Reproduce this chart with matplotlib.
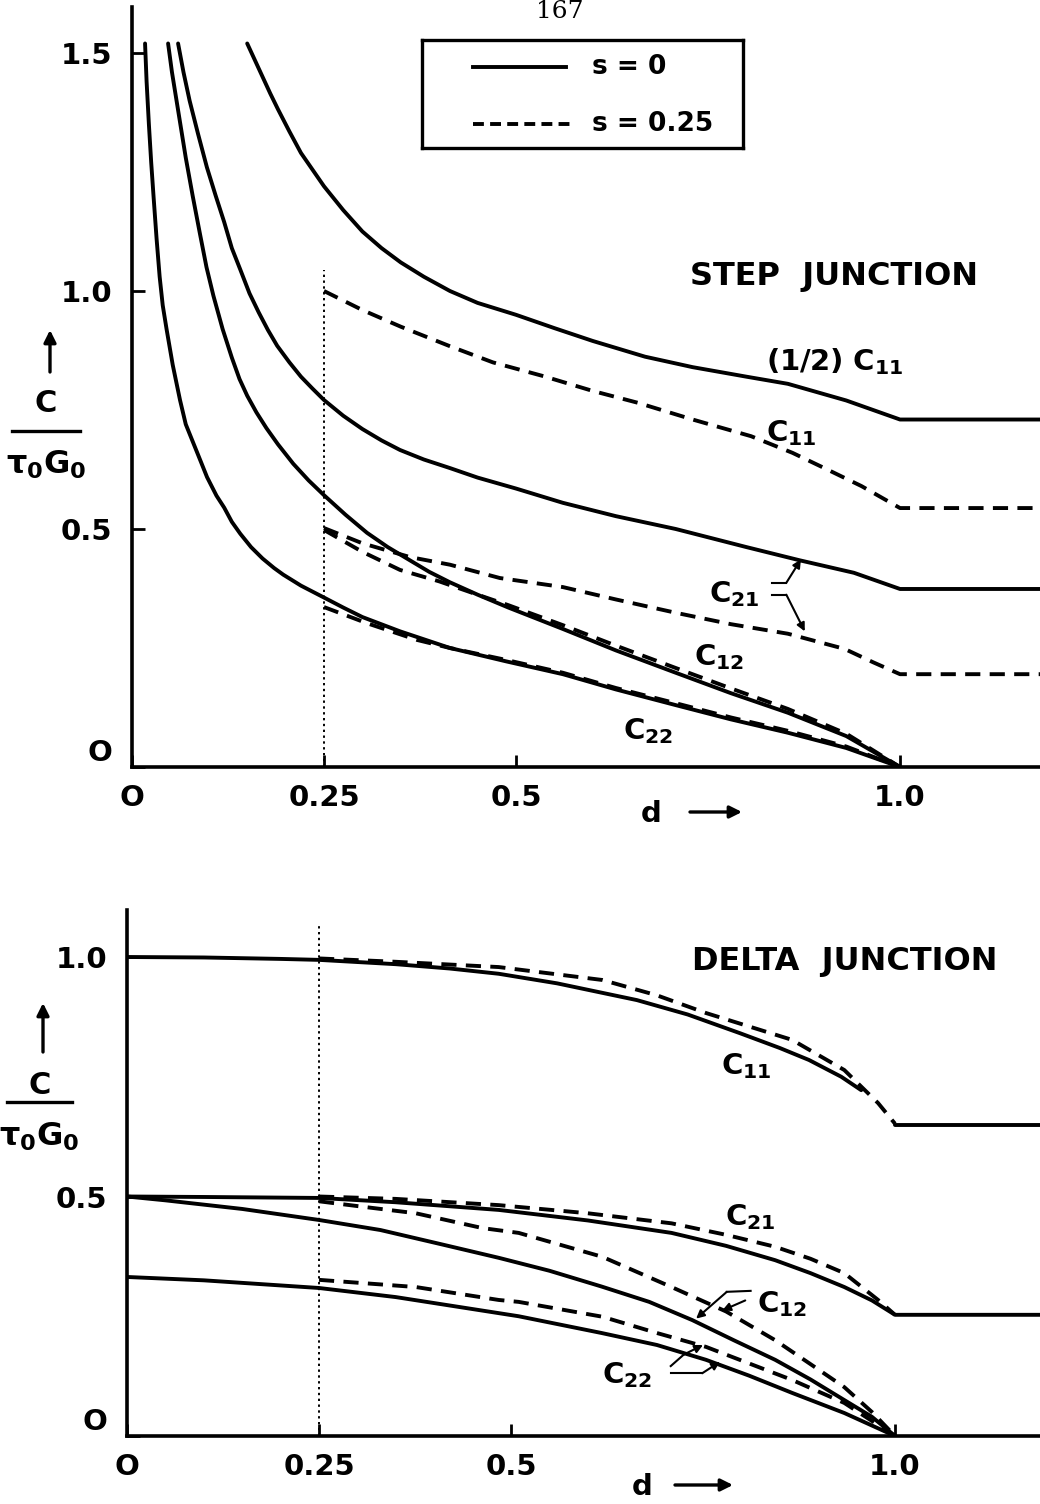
import matplotlib
matplotlib.use("Agg")
import matplotlib.pyplot as plt
from matplotlib.lines import Line2D

plt.rcParams['font.family'] = ['DejaVu Sans']
plt.rcParams['font.weight'] = 'bold'
plt.rcParams['mathtext.fontset'] = 'dejavusans'
plt.rcParams['mathtext.default'] = 'bf'

# ---------------- STEP JUNCTION ----------------
# s = 0 (solid)
step_hc11_d = [0.15, 0.16, 0.17, 0.18, 0.19, 0.205, 0.22, 0.235, 0.25, 0.275, 0.30, 0.325, 0.35, 0.38,
               0.414, 0.45, 0.50, 0.55, 0.60, 0.668, 0.73, 0.80, 0.854, 0.93, 1.0, 1.19]
step_hc11_c = [1.52, 1.485, 1.45, 1.415, 1.382, 1.335, 1.29, 1.255, 1.22, 1.17, 1.125, 1.09, 1.06, 1.03,
               1.0, 0.975, 0.95, 0.922, 0.895, 0.862, 0.84, 0.82, 0.805, 0.77, 0.73, 0.73]

step_c21_d = [0.06, 0.067, 0.075, 0.086, 0.0975, 0.109, 0.12, 0.13, 0.141, 0.153, 0.165, 0.177, 0.189,
              0.205, 0.22, 0.235, 0.25, 0.275, 0.30, 0.325, 0.349, 0.38, 0.414, 0.45, 0.50, 0.561,
              0.63, 0.708, 0.80, 0.87, 0.94, 1.0, 1.19]
step_c21_c = [1.52, 1.46, 1.40, 1.33, 1.26, 1.20, 1.145, 1.09, 1.045, 0.995, 0.955, 0.918, 0.885,
              0.85, 0.82, 0.795, 0.771, 0.738, 0.71, 0.686, 0.666, 0.646, 0.628, 0.608, 0.585, 0.555,
              0.527, 0.50, 0.462, 0.434, 0.408, 0.374, 0.374]

step_c12_d = [0.047, 0.052, 0.058, 0.064, 0.07, 0.079, 0.0885, 0.097, 0.106, 0.118, 0.13, 0.14, 0.15,
              0.162, 0.175, 0.19, 0.21, 0.23, 0.25, 0.278, 0.306, 0.333, 0.36, 0.387, 0.414, 0.45,
              0.49, 0.561, 0.63, 0.708, 0.78, 0.854, 0.93, 1.0]
step_c12_c = [1.52, 1.46, 1.40, 1.34, 1.28, 1.20, 1.12, 1.05, 0.99, 0.92, 0.86, 0.815, 0.78,
              0.745, 0.712, 0.678, 0.637, 0.602, 0.571, 0.53, 0.492, 0.462, 0.436, 0.41, 0.388, 0.362,
              0.335, 0.29, 0.245, 0.198, 0.155, 0.114, 0.065, 0.0]

step_c22_d = [0.017, 0.019, 0.022, 0.025, 0.028, 0.032, 0.036, 0.04, 0.045, 0.053, 0.0625, 0.07, 0.08,
              0.09, 0.0977, 0.11, 0.12, 0.13, 0.141, 0.155, 0.17, 0.185, 0.197, 0.22, 0.25, 0.275,
              0.30, 0.349, 0.414, 0.487, 0.561, 0.63, 0.708, 0.78, 0.854, 0.93, 1.0]
step_c22_c = [1.52, 1.44, 1.35, 1.27, 1.20, 1.11, 1.03, 0.97, 0.92, 0.845, 0.771, 0.72, 0.68,
              0.64, 0.609, 0.57, 0.545, 0.515, 0.49, 0.462, 0.438, 0.418, 0.404, 0.381, 0.356, 0.335,
              0.315, 0.285, 0.25, 0.222, 0.195, 0.163, 0.13, 0.1, 0.072, 0.04, 0.0]

# s = 0.25 (dashed)
step_c11_s_d = [0.25, 0.30, 0.35, 0.414, 0.47, 0.536, 0.60, 0.659, 0.73, 0.806, 0.86, 0.904, 0.95, 1.0, 1.19]
step_c11_s_c = [1.0, 0.96, 0.925, 0.884, 0.85, 0.821, 0.79, 0.765, 0.73, 0.695, 0.66, 0.626, 0.59, 0.544, 0.544]

step_c21_s_d = [0.25, 0.30, 0.362, 0.414, 0.479, 0.561, 0.63, 0.708, 0.78, 0.854, 0.928, 0.965, 1.0, 1.19]
step_c21_s_c = [0.502, 0.47, 0.441, 0.425, 0.397, 0.378, 0.352, 0.324, 0.30, 0.28, 0.248, 0.22, 0.195, 0.195]

step_c12_s_d = [0.25, 0.30, 0.349, 0.40, 0.45, 0.49, 0.561, 0.63, 0.708, 0.78, 0.854, 0.93, 1.0]
step_c12_s_c = [0.498, 0.452, 0.414, 0.39, 0.362, 0.34, 0.298, 0.255, 0.208, 0.165, 0.122, 0.07, 0.0]

step_c22_s_d = [0.25, 0.306, 0.371, 0.414, 0.487, 0.561, 0.63, 0.708, 0.78, 0.854, 0.93, 1.0]
step_c22_s_c = [0.336, 0.302, 0.267, 0.25, 0.225, 0.198, 0.166, 0.134, 0.104, 0.076, 0.043, 0.0]

# ---------------- DELTA JUNCTION ----------------
# s = 0 (solid)
delta_c11_d = [0.0, 0.1, 0.2, 0.25, 0.35, 0.42, 0.484, 0.56, 0.664, 0.73, 0.798, 0.85, 0.888, 0.93, 0.956]
delta_c11_c = [1.0, 0.999, 0.996, 0.994, 0.985, 0.976, 0.965, 0.945, 0.91, 0.88, 0.841, 0.81, 0.785, 0.75, 0.722]
delta_c11_flat_d = [1.0, 1.19]
delta_c11_flat_c = [0.65, 0.65]

delta_c21_d = [0.0, 0.1, 0.25, 0.35, 0.484, 0.6, 0.709, 0.78, 0.844, 0.89, 0.934, 0.97, 1.0, 1.19]
delta_c21_c = [0.5, 0.499, 0.497, 0.488, 0.472, 0.45, 0.424, 0.397, 0.367, 0.34, 0.311, 0.283, 0.253, 0.253]

delta_c12_d = [0.0, 0.05, 0.1, 0.15, 0.25, 0.33, 0.41, 0.484, 0.55, 0.618, 0.68, 0.736, 0.79, 0.844,
               0.89, 0.934, 0.97, 1.0]
delta_c12_c = [0.5, 0.492, 0.483, 0.474, 0.451, 0.43, 0.40, 0.372, 0.345, 0.312, 0.28, 0.242, 0.2, 0.159,
               0.118, 0.075, 0.04, 0.0]

delta_c22_d = [0.0, 0.1, 0.25, 0.35, 0.45, 0.51, 0.618, 0.69, 0.754, 0.81, 0.866, 0.934, 1.0]
delta_c22_c = [0.332, 0.325, 0.309, 0.29, 0.265, 0.25, 0.215, 0.19, 0.159, 0.126, 0.09, 0.048, 0.0]

# s = 0.25 (dashed)
delta_c11_s_d = [0.25, 0.35, 0.484, 0.619, 0.69, 0.754, 0.81, 0.866, 0.934, 0.978, 1.0]
delta_c11_s_c = [0.997, 0.99, 0.979, 0.952, 0.92, 0.883, 0.855, 0.827, 0.764, 0.695, 0.652]

delta_c21_s_d = [0.25, 0.35, 0.484, 0.60, 0.709, 0.78, 0.844, 0.89, 0.934, 0.978, 1.0]
delta_c21_s_c = [0.5, 0.495, 0.482, 0.465, 0.444, 0.42, 0.395, 0.37, 0.34, 0.284, 0.253]

delta_c12_s_d = [0.25, 0.30, 0.376, 0.463, 0.51, 0.619, 0.709, 0.78, 0.844, 0.89, 0.934, 0.97, 1.0]
delta_c12_s_c = [0.49, 0.48, 0.465, 0.434, 0.424, 0.374, 0.311, 0.26, 0.2, 0.15, 0.102, 0.05, 0.0]

delta_c22_s_d = [0.25, 0.376, 0.484, 0.51, 0.619, 0.69, 0.754, 0.866, 0.934, 1.0]
delta_c22_s_c = [0.326, 0.311, 0.284, 0.28, 0.249, 0.215, 0.186, 0.117, 0.069, 0.0]

# axis ticks
step_yticks = [0, 0.5, 1.0, 1.5]
step_ylabels = ['', '0.5', '1.0', '1.5']
delta_yticks = [0, 0.5, 1.0]
delta_ylabels = ['', '0.5', '1.0']
xticks = [0, 0.25, 0.5, 1.0]
xlabels = ['O', '0.25', '0.5', '1.0']

W, H = 1040, 1504
LW = 2.8
DASH = (0, (3.9, 2.4))
DOT = (0, (1.2, 1.8))
FS = 21

fig = plt.figure(figsize=(W / 100, H / 100), dpi=100)


def px(x, y):
    # pixel (from top-left) -> figure fraction
    return x / W, 1 - y / H


def setup_axes(ax, yticks, ylabels):
    for s in ['top', 'right']:
        ax.spines[s].set_visible(False)
    for s in ['left', 'bottom']:
        ax.spines[s].set_linewidth(2.6)
    ax.set_xticks(xticks)
    ax.set_xticklabels(xlabels)
    ax.set_yticks(yticks)
    ax.set_yticklabels(ylabels)
    ax.tick_params(direction='in', length=9, width=2, labelsize=FS, pad=12)
    ax.tick_params(axis='y', pad=14)
    # the zero label sits a bit above the axis line in the original
    ax.annotate('O', xy=(0, 0), xycoords='data', xytext=(-14, 10), textcoords='offset points',
                ha='right', va='center', fontsize=FS)


def sub(name, idx):
    return r'$%s_{%s}$' % (name, idx)


def ylabel(arrow_x, arrow_top, arrow_bot, cy, bar_x0, bar_x1, bar_y, tau_y):
    ax0 = fig.axes[0]
    ax0.annotate('', xy=px(arrow_x, arrow_top), xytext=px(arrow_x, arrow_bot),
                 xycoords='figure fraction', textcoords='figure fraction',
                 arrowprops=dict(arrowstyle='-|>', color='k', lw=2.4, mutation_scale=18,
                                 shrinkA=0, shrinkB=0))
    fig.text(*px((bar_x0 + bar_x1) / 2, cy), 'C', fontsize=FS + 1, ha='center', va='center')
    fig.add_artist(Line2D([bar_x0 / W, bar_x1 / W], [1 - bar_y / H] * 2, color='k', lw=2.4))
    fig.text(*px((bar_x0 + bar_x1) / 2, tau_y), r'$\tau_0 G_0$', fontsize=FS + 2,
             ha='center', va='center')


def d_arrow(ax, y_px, d_x, a0, a1):
    fig.text(*px(d_x, y_px), 'd', fontsize=FS, ha='center', va='center')
    ax.annotate('', xy=px(a1, y_px - 2), xytext=px(a0, y_px - 2),
                xycoords='figure fraction', textcoords='figure fraction',
                arrowprops=dict(arrowstyle='-|>', color='k', lw=2.4, mutation_scale=18,
                                shrinkA=0, shrinkB=0))


# ================= top panel : step junction =================
ax1 = fig.add_axes([132 / W, 1 - 767 / H, 1 - 132 / W, 760 / H])
ax1.set_xlim(0, 908 / 768)
ax1.set_ylim(0, 760 / 476)
setup_axes(ax1, step_yticks, step_ylabels)

for d, c in [(step_hc11_d, step_hc11_c), (step_c21_d, step_c21_c),
             (step_c12_d, step_c12_c), (step_c22_d, step_c22_c)]:
    ax1.plot(d, c, color='k', lw=LW, solid_capstyle='round', solid_joinstyle='round')
for d, c in [(step_c11_s_d, step_c11_s_c), (step_c21_s_d, step_c21_s_c),
             (step_c12_s_d, step_c12_s_c), (step_c22_s_d, step_c22_s_c)]:
    ax1.plot(d, c, color='k', lw=LW, ls=DASH)
ax1.plot([0.25, 0.25], [0, 1.045], color='k', lw=1.4, ls=DOT)

ax1.text(0.727, 1.03, 'STEP  JUNCTION', fontsize=23, ha='left', va='center')
ax1.text(0.826, 0.851, '(1/2) ' + sub('C', '11'), fontsize=FS, ha='left', va='center')
ax1.text(0.826, 0.702, sub('C', '11'), fontsize=FS, ha='left', va='center')
ax1.text(0.751, 0.363, sub('C', '21'), fontsize=FS, ha='left', va='center')
ax1.text(0.732, 0.231, sub('C', '12'), fontsize=FS, ha='left', va='center')
ax1.text(0.639, 0.076, sub('C', '22'), fontsize=FS, ha='left', va='center')

# bracket arrows for C21
arrow_kw = dict(arrowstyle='-|>', color='k', lw=1.5, mutation_scale=12, shrinkA=0, shrinkB=0)
ax1.plot([0.833, 0.852], [0.387, 0.387], color='k', lw=1.5)
ax1.annotate('', xy=(0.871, 0.436), xytext=(0.852, 0.387), arrowprops=arrow_kw)
ax1.plot([0.833, 0.852], [0.362, 0.362], color='k', lw=1.5)
ax1.annotate('', xy=(0.876, 0.285), xytext=(0.852, 0.362), arrowprops=arrow_kw)

# ================= bottom panel : delta junction =================
ax2 = fig.add_axes([127 / W, 1 - 1436 / H, 1 - 127 / W, 526 / H])
ax2.set_xlim(0, 913 / 768)
ax2.set_ylim(0, 526 / 479)
setup_axes(ax2, delta_yticks, delta_ylabels)

for d, c in [(delta_c11_d, delta_c11_c), (delta_c11_flat_d, delta_c11_flat_c),
             (delta_c21_d, delta_c21_c), (delta_c12_d, delta_c12_c), (delta_c22_d, delta_c22_c)]:
    ax2.plot(d, c, color='k', lw=LW, solid_capstyle='round', solid_joinstyle='round')
for d, c in [(delta_c11_s_d, delta_c11_s_c), (delta_c21_s_d, delta_c21_s_c),
             (delta_c12_s_d, delta_c12_s_c), (delta_c22_s_d, delta_c22_s_c)]:
    ax2.plot(d, c, color='k', lw=LW, ls=DASH)
ax2.plot([0.25, 0.25], [0, 1.07], color='k', lw=1.4, ls=DOT)

ax2.text(0.736, 0.99, 'DELTA  JUNCTION', fontsize=23, ha='left', va='center')
ax2.text(0.773, 0.772, sub('C', '11'), fontsize=FS, ha='left', va='center')
ax2.text(0.779, 0.457, sub('C', '21'), fontsize=FS, ha='left', va='center')
ax2.text(0.82, 0.275, sub('C', '12'), fontsize=FS, ha='left', va='center')
ax2.text(0.618, 0.127, sub('C', '22'), fontsize=FS, ha='left', va='center')

# leader arrows for C12 and C22
ax2.plot([0.812, 0.781], [0.303, 0.301], color='k', lw=1.5)
ax2.annotate('', xy=(0.741, 0.245), xytext=(0.781, 0.301), arrowprops=arrow_kw)
ax2.annotate('', xy=(0.775, 0.262), xytext=(0.805, 0.283), arrowprops=arrow_kw)
ax2.plot([0.708, 0.725], [0.146, 0.17], color='k', lw=1.5)
ax2.annotate('', xy=(0.75, 0.19), xytext=(0.725, 0.17), arrowprops=arrow_kw)
ax2.plot([0.708, 0.749], [0.131, 0.131], color='k', lw=1.5)
ax2.annotate('', xy=(0.772, 0.155), xytext=(0.749, 0.131), arrowprops=arrow_kw)

# ================= y labels, d arrows, page number =================
ylabel(50, 330, 372, 404, 12, 80, 431, 465)
ylabel(43, 1003, 1052, 1086, 7, 72, 1102, 1137)
d_arrow(ax1, 814, 651, 690, 742)
d_arrow(ax2, 1487, 642, 675, 733)
fig.text(*px(560, 12), '167', fontsize=18, family='DejaVu Serif', weight='normal',
         ha='center', va='center')

# ================= legend box =================
leg = fig.add_axes([422 / W, 1 - 148 / H, 321 / W, 108 / H])
leg.set_xlim(422, 743)
leg.set_ylim(148, 40)
leg.set_xticks([])
leg.set_yticks([])
for s in leg.spines.values():
    s.set_linewidth(2.4)
leg.plot([473, 566], [67, 67], color='k', lw=LW)
leg.plot([473, 570], [124, 124], color='k', lw=LW, ls=(0, (2.8, 1.6)))
leg.text(592, 67, 's = 0', fontsize=19, ha='left', va='center')
leg.text(592, 124, 's = 0.25', fontsize=19, ha='left', va='center')

fig.savefig('out.png', dpi=100)
